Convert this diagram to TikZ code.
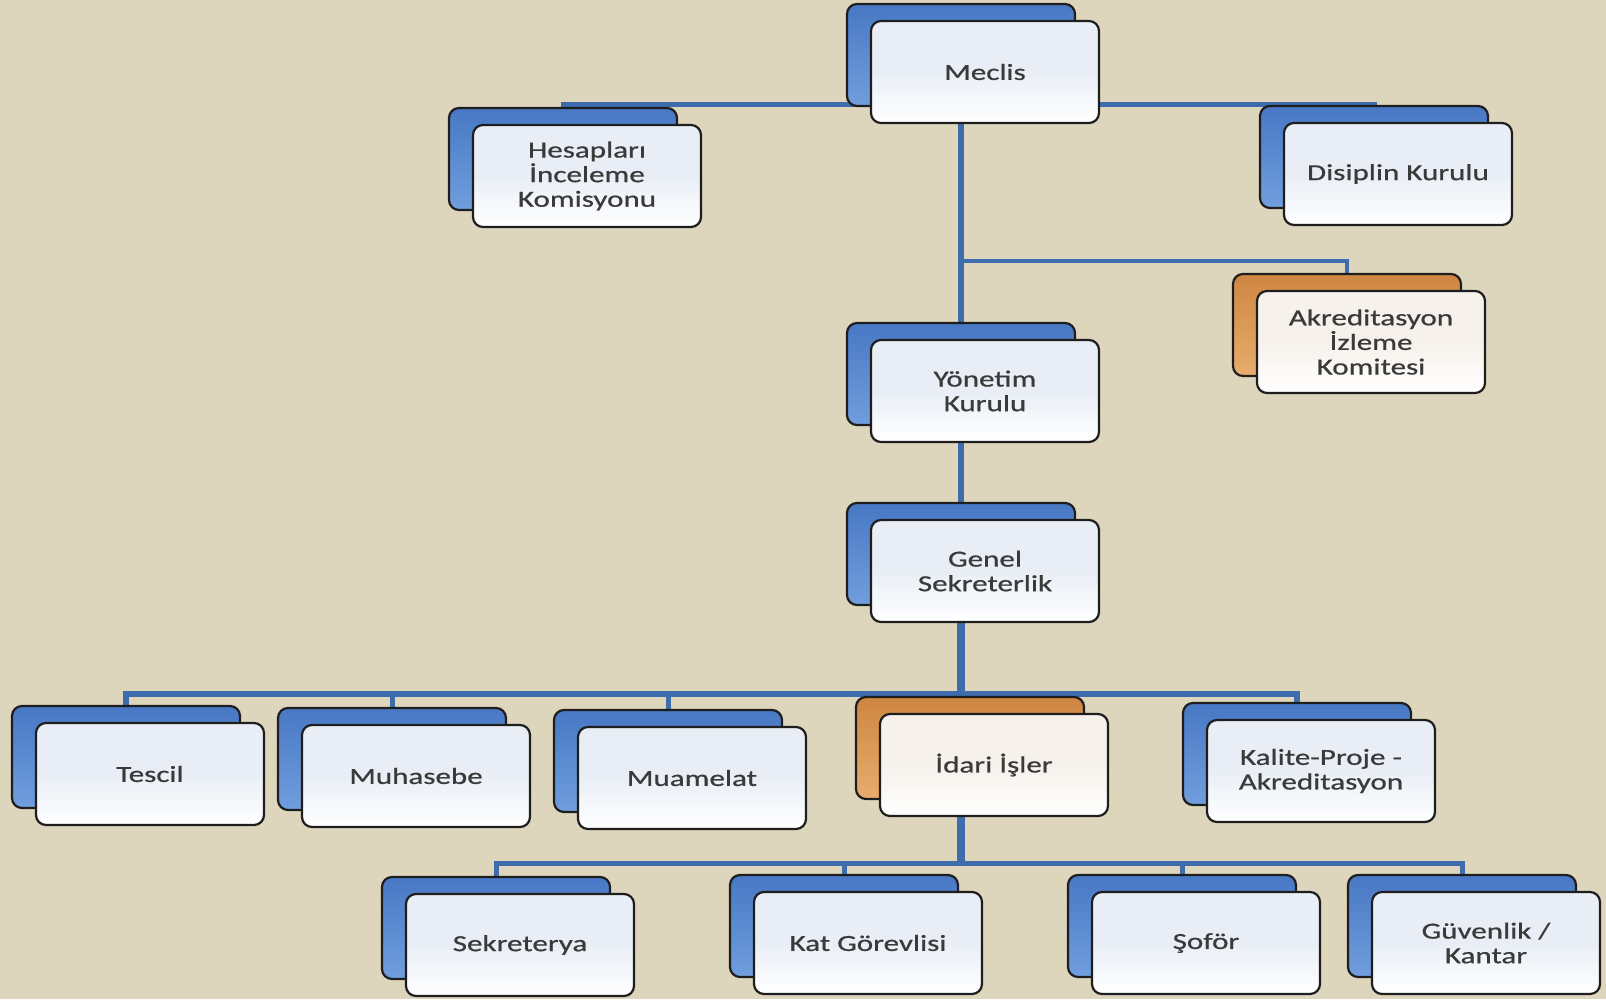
\documentclass[tikz,border=0pt]{standalone}
\usepackage{fontspec}
\setmainfont{Carlito}[FakeStretch=1.35, FakeBold=0.7]
\usepackage{tikz}
\usetikzlibrary{shadows, backgrounds}

\definecolor{paper}{RGB}{222,213,189}
\definecolor{linkblue}{RGB}{62,108,172}
\definecolor{blueback}{RGB}{72,120,196}
\definecolor{bluelight}{RGB}{112,158,222}
\definecolor{orangeback}{RGB}{206,134,66}
\definecolor{orangelight}{RGB}{232,172,108}
\definecolor{frontblue}{RGB}{233,238,246}
\definecolor{frontwarm}{RGB}{246,241,235}
\definecolor{edge}{RGB}{30,30,30}
\definecolor{label}{RGB}{58,58,58}

\begin{document}
\begin{tikzpicture}[
  x=1pt, y=-1pt,
  unit/.style={
    draw=edge,
    line width=2.2pt,
    rounded corners=10pt,
    minimum width=228pt,
    minimum height=102pt,
    inner sep=0pt,
    align=center,
    text=label,
    font=\fontsize{23}{24.6}\selectfont,
    top color=frontblue,
    bottom color=white,
    middle color=frontblue
  },
  blueunit/.style={
    unit,
    copy shadow={shadow xshift=-24pt, shadow yshift=17pt,
      draw=edge, top color=blueback, bottom color=bluelight}
  },
  orangeunit/.style={
    unit,
    top color=frontwarm,
    bottom color=white,
    middle color=frontwarm,
    copy shadow={shadow xshift=-24pt, shadow yshift=17pt,
      draw=edge, top color=orangeback, bottom color=orangelight}
  },
  link/.style={
    draw=linkblue,
    line width=5pt
  },
  trunk/.style={
    link,
    line width=8pt
  }
]

\useasboundingbox (0,0) rectangle (1606,999);

% Boxes
\node [blueunit] (meclis) at (985,72) {Meclis};
\node [blueunit] (hesap) at (587,176) {Hesapları\\İnceleme\\Komisyonu};
\node [blueunit] (disiplin) at (1398,174) {Disiplin Kurulu};
\node [orangeunit] (akred) at (1371,342) {Akreditasyon\\İzleme\\Komitesi};
\node [blueunit] (yonetim) at (985,391) {Yönetim\\Kurulu};
\node [blueunit] (genel) at (985,571) {Genel\\Sekreterlik};

\node [blueunit] (tescil) at (150,774) {Tescil};
\node [blueunit] (muhasebe) at (416,776) {Muhasebe};
\node [blueunit] (muamelat) at (692,778) {Muamelat};
\node [orangeunit] (idari) at (994,765) {İdari İşler};
\node [blueunit] (kalite) at (1321,771) {Kalite-Proje -\\Akreditasyon};

\node [blueunit] (sekreterya) at (520,945) {Sekreterya};
\node [blueunit] (katgor) at (868,943) {Kat Görevlisi};
\node [blueunit] (sofor) at (1206,943) {Şoför};
\node [blueunit] (guvenlik) at (1486,943) {Güvenlik /\\Kantar};

% Bus points
\coordinate (topbus) at (961,104);
\coordinate (akredbus) at (961,261);
\coordinate (midbus) at (961,694);
\coordinate (lowbus) at (961,863);

% Connectors
\begin{scope}[on background layer]
  \fill [paper] (0,0) rectangle (1606,999);

  \draw [link] ([xshift=-24pt]hesap.center) |- (topbus) -| ([xshift=-24pt]disiplin.center);
  \draw [link, line width=6pt] ([xshift=-24pt]meclis.center) -- ([xshift=-24pt]yonetim.center);
  \draw [link, line width=4pt] (akredbus) -| ([xshift=-24pt]akred.center);
  \draw [link, line width=6pt] ([xshift=-24pt]yonetim.center) -- ([xshift=-24pt]genel.center);
  \draw [trunk] ([xshift=-24pt]genel.center) -- (lowbus);

  \draw [link, line width=6pt] ([xshift=-24pt]tescil.center) |- (midbus) -| ([xshift=-24pt]kalite.center);
  \draw [link] ([xshift=-24pt]muhasebe.center) |- (midbus);
  \draw [link] ([xshift=-24pt]muamelat.center) |- (midbus);

  \draw [link] ([xshift=-24pt]sekreterya.center) |- (lowbus) -| ([xshift=-24pt]guvenlik.center);
  \draw [link] ([xshift=-24pt]katgor.center) |- (lowbus);
  \draw [link] ([xshift=-24pt]sofor.center) |- (lowbus);
\end{scope}

\end{tikzpicture}
\end{document}
